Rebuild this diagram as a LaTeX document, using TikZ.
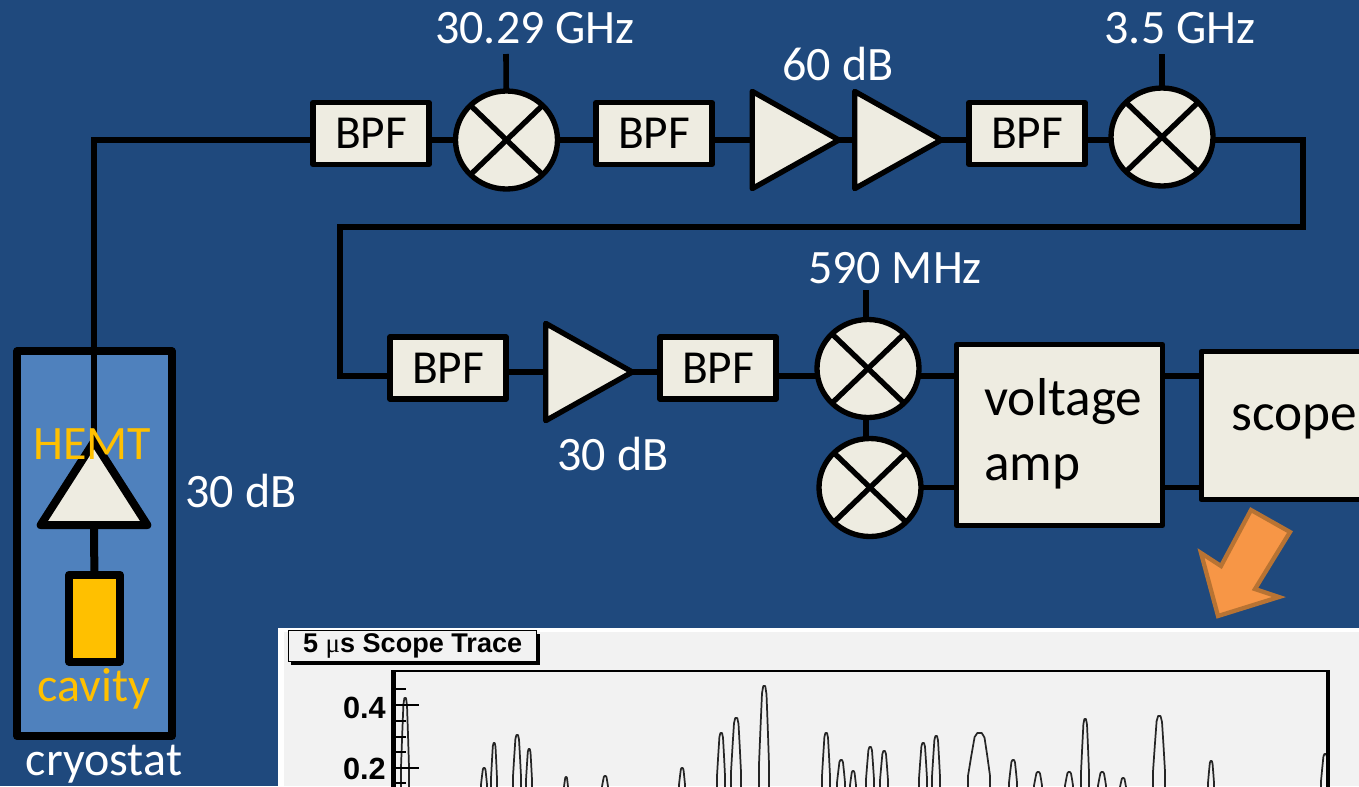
\documentclass[tikz,border=0pt]{standalone}
\usepackage{fontspec}
\setmainfont{Carlito}
\newfontfamily\plotfont{Liberation Sans}
\newfontfamily\mufont{Liberation Serif}
\usetikzlibrary{shapes.geometric,backgrounds}
\definecolor{bgblue}{HTML}{1F497D}
\definecolor{cryo}{HTML}{4F81BD}
\definecolor{cream}{HTML}{EEECE1}
\definecolor{gold}{HTML}{FFC000}
\definecolor{arrowfill}{HTML}{F79646}
\definecolor{arrowedge}{HTML}{B87333}
\definecolor{plotbg}{HTML}{F2F2F2}
\newcommand{\bpftext}{\raisebox{-1.5pt}{BPF}}
\tikzset{
  px/.style={x=0.75pt,y=-0.75pt},
  wire/.style={draw=black,line width=4.2pt,line join=miter},
  bpfbox/.style={draw=black,fill=cream,line width=4pt,line join=round,minimum width=87pt,minimum height=46.5pt,inner sep=0pt,font=\fontsize{35.5}{35.5}\selectfont},
  block/.style={draw=black,fill=cream,line width=4pt,line join=round,inner sep=0pt},
  mixer/.style={ellipse,draw=black,fill=cream,line width=4pt,minimum width=76.5pt,minimum height=73.5pt,inner sep=0pt,
    path picture={
      \draw[line width=4pt] (path picture bounding box.south west)--(path picture bounding box.north east);
      \draw[line width=4pt] (path picture bounding box.north west)--(path picture bounding box.south east);}},
  amp/.style={isosceles triangle,isosceles triangle stretches,anchor=lower side,draw=black,fill=cream,line width=4pt,inner sep=0pt,minimum width=73pt,minimum height=65pt,line join=round},
  lab/.style={text=white,font=\fontsize{36}{36}\selectfont,inner sep=0pt},
  goldlab/.style={text=gold,font=\fontsize{36}{36}\selectfont,inner sep=0pt},
  peak/.style={draw=black!85,line width=1.3pt,line join=round},
  tick/.style={draw=black,line width=1.1pt},
  plotnum/.style={text=black,font=\plotfont\bfseries\fontsize{23}{23}\selectfont,inner sep=0pt}
}
\begin{document}
\begin{tikzpicture}[px]
\useasboundingbox (0,0) rectangle (1359,786);
\begin{scope}[on background layer]
  \fill[bgblue] (0,0) rectangle (1359,786);
  \node[draw=black,fill=cryo,line width=6pt,line join=round,minimum width=115.8pt,minimum height=288.5pt,inner sep=0pt] (cryostat) at (94.5,543.7) {};
\end{scope}
% top row
\node[bpfbox] (b1) at (371,133.5) {\bpftext};
\node[mixer] (m1) at (506.5,140) {};
\node[bpfbox] (b2) at (654,133.5) {\bpftext};
\node[amp] (a1) at (749.5,140) {};
\node[amp] (a2) at (852,140) {};
\node[bpfbox] (b3) at (1027,133.5) {\bpftext};
\node[mixer] (m2) at (1162,137) {};
% middle row
\node[bpfbox] (b4) at (448,368) {\bpftext};
\node[amp] (a3) at (543,372) {};
\node[bpfbox] (b5) at (718,368) {\bpftext};
\node[mixer] (m3) at (868,368.5) {};
\node[mixer] (m4) at (870,487.5) {};
\node[block,minimum width=154.5pt,minimum height=135.5pt] (va) at (1059.5,435) {};
\node[block,minimum width=130pt,minimum height=111pt,anchor=west] (sc) at (1198.5,425.6) {};
% cryostat contents
\node[isosceles triangle,isosceles triangle stretches,shape border rotate=90,anchor=lower side,draw=black,fill=cream,line width=6pt,line join=round,inner sep=0pt,minimum width=80pt,minimum height=62.5pt] (hemt) at (94,529) {};
\node[draw=black,fill=gold,line width=6pt,line join=round,minimum width=38.25pt,minimum height=65pt,inner sep=0pt] (cav) at (94.5,618.2) {};
% free ends
\coordinate (lo1) at (506,54);
\coordinate (lo2) at (1162,54);
\coordinate (lo3) at (866,290);
\coordinate (turnR) at (1303,140);
\coordinate (turnL) at (340,227);
\coordinate (rowL) at (340,376);
\begin{scope}[on background layer]
  \draw[wire] (hemt.center) |- (b1 |- m1) -- (m1.center) -- (b2 |- m1) -- (a1 |- m1) -- (a2 |- m1) -- (b3 |- m1) -- (m2 |- m1) -- (turnR) |- (turnL) -- (rowL) -- (b4 |- rowL);
  \draw[wire] (b4 |- a3) -- (a3.center) -- (b5 |- a3);
  \draw[wire] (b5 |- rowL) -- (m3 |- rowL) -- (va |- rowL) -- (sc |- rowL);
  \draw[wire] (m4.center) -- (va |- m4) -- (sc |- m4);
  \draw[wire] (m1.center) -- (lo1);
  \draw[wire] (m2.center) -- (lo2);
  \draw[wire] (lo3) -- (lo3 |- m4);
  \draw[line width=6pt] (hemt.center) -- (cav.center);
\end{scope}
% block text
\node[anchor=west,font=\fontsize{40}{49}\selectfont,align=left,inner sep=0pt] (vatext) at (984,434) {voltage\\amp};
\node[anchor=west,font=\fontsize{40}{40}\selectfont,inner sep=0pt] (sctext) at (1231,422) {scope};
% labels
\node[lab] (t1) at (535,28) {30.29 GHz};
\node[lab] (t2) at (838,64) {60 dB};
\node[lab] (t3) at (1180,28) {3.5 GHz};
\node[lab] (t4) at (895,268) {590 MHz};
\node[lab] (t5) at (613,454) {30 dB};
\node[lab] (t6) at (241,491) {30 dB};
\node[lab] (t7) at (104,764) {cryostat};
\node[goldlab] (t8) at (92,444) {HEMT};
\node[goldlab] (t9) at (94,689) {cavity};
% orange arrow
\draw[draw=arrowedge,fill=arrowfill,line width=3.2pt,miter limit=10] (1251,510) -- (1290,532) -- (1255,589) -- (1279,597) -- (1218,616) -- (1201,553) -- (1221,566) -- cycle;
% plot
\fill[white] (278,628) rectangle (1359,786);
\fill[plotbg] (284,632) rectangle (1359,786);
\begin{scope}
  \clip (284,632) rectangle (1359,786);
  \foreach \x/\t/\w in {405/698/4,484/768/3,494/743/3,517/735/4,529/749/3,566/777/2,605/776/3,682/768/3,721/733/4,736/718/5,764/686/5,826/733/4,841/760/4,853/771/3,870/747/4,884/751/4,923/743/4,936/736/4,979/733/11,1013/760/4,1038/772/4,1069/772/4,1085/719/4,1102/772/4,1123/778/3,1159/716/6,1211/761/3,1325/754/4}{
    \draw[peak] ({\x-\w},790) -- ({\x-\w},{0.25*\t+0.75*790}) -- ({\x-0.7*\w},{0.6*\t+0.4*790}) -- ({\x-0.4*\w},{0.93*\t+0.07*790}) -- ({\x-0.15*\w},\t) -- ({\x+0.25*\w},\t) -- ({\x+0.5*\w},{0.92*\t+0.08*790}) -- ({\x+0.75*\w},{0.6*\t+0.4*790}) -- ({\x+\w},{0.25*\t+0.75*790}) -- ({\x+\w},790);
  }
  \foreach \y in {689,721,737,752,783}{ \draw[tick] (394,\y) -- (406,\y); }
  \foreach \y in {705,768}{ \draw[tick] (394,\y) -- (419,\y); }
  \draw[black,line width=1.8pt] (392,790) |- (1329,671) -- (1329,790);
  \draw[black,line width=3pt] (393.5,671) -- (393.5,790);
  \draw[black,line width=3pt] (1328,671) -- (1328,790);
\end{scope}
\fill[black] (291,634) rectangle (540,665);
\node[draw=black,fill=plotbg,line width=0.9pt,minimum width=186pt,minimum height=23pt,inner sep=0pt,anchor=north west,font=\plotfont\bfseries\fontsize{20.3}{20.3}\selectfont] (title) at (288,630) {5 {\mufont\mdseries μ}s Scope Trace};
\node[plotnum,anchor=east] (y4) at (386,708) {0.4};
\node[plotnum,anchor=east] (y2) at (386,769) {0.2};
\end{tikzpicture}
\end{document}
